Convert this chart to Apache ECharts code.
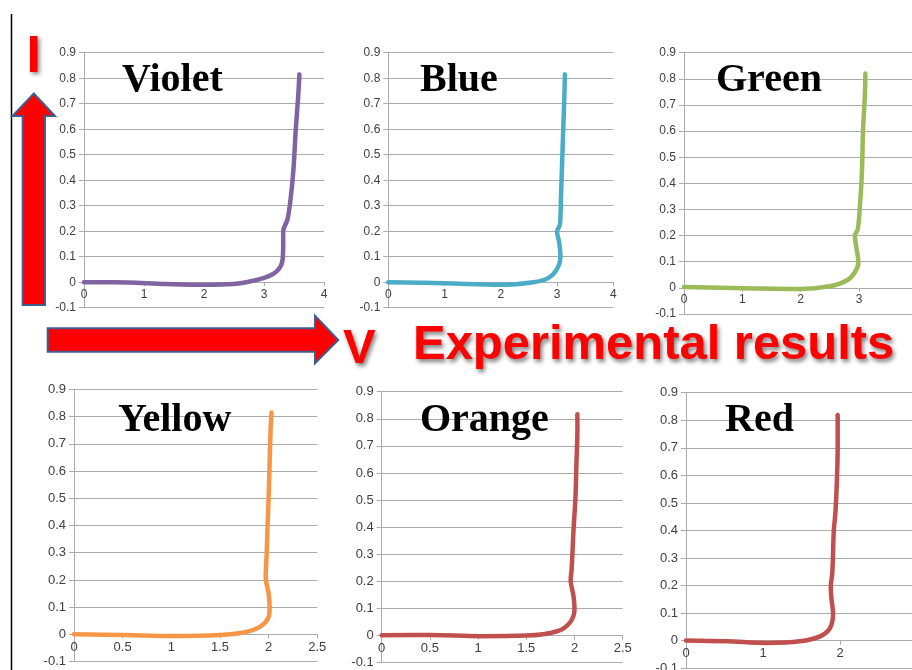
<!DOCTYPE html>
<html>
<head>
<meta charset="utf-8">
<script src="https://cdn.jsdelivr.net/npm/echarts@6/dist/echarts.min.js"></script>
<style>
html, body { margin: 0; padding: 0; background: #ffffff; }
#chart { width: 912px; height: 670px; }
</style>
</head>
<body>
<div id="chart"></div>
<script>
// Measured current (I) versus voltage (V) for each LED colour
const violetV = [0, 0.5, 1.38, 2.0, 2.49, 2.99, 3.21, 3.31, 3.32, 3.32, 3.39, 3.44, 3.49, 3.53, 3.57, 3.59];
const violetI = [0, 0.0, -0.007, -0.01, -0.007, 0.016, 0.042, 0.088, 0.153, 0.2, 0.245, 0.32, 0.44, 0.6, 0.73, 0.815];

const blueV = [0, 1.0, 1.99, 2.58, 2.84, 2.99, 3.06, 3.04, 3.0, 3.05, 3.07, 3.09, 3.11, 3.13, 3.14];
const blueI = [0, -0.004, -0.01, 0, 0.016, 0.048, 0.1, 0.153, 0.2, 0.225, 0.336, 0.467, 0.6, 0.73, 0.815];

const greenV = [0, 1.02, 1.99, 2.5, 2.79, 2.93, 2.99, 2.96, 2.93, 2.98, 3.02, 3.05, 3.07, 3.1, 3.11];
const greenI = [0.003, -0.001, -0.004, 0.006, 0.028, 0.06, 0.098, 0.148, 0.2, 0.225, 0.326, 0.44, 0.605, 0.732, 0.82];

const yellowV = [0, 0.51, 1.02, 1.5, 1.74, 1.91, 2.0, 2.01, 2.0, 1.97, 1.98, 1.99, 2.0, 2.01, 2.02, 2.03];
const yellowI = [0.001, -0.002, -0.006, -0.002, 0.007, 0.028, 0.065, 0.1, 0.15, 0.21, 0.3, 0.41, 0.505, 0.63, 0.75, 0.815];

const orangeV = [0, 0.5, 1.02, 1.5, 1.82, 1.95, 2.0, 1.99, 1.96, 1.97, 1.99, 2.01, 2.02, 2.03, 2.03];
const orangeI = [0.001, 0.002, -0.002, 0, 0.016, 0.047, 0.096, 0.145, 0.206, 0.243, 0.39, 0.51, 0.636, 0.76, 0.817];

const redV = [0, 0.53, 1.05, 1.48, 1.74, 1.87, 1.91, 1.89, 1.88, 1.9, 1.92, 1.94, 1.96, 1.97, 1.97];
const redI = [0.001, -0.002, -0.008, -0.002, 0.016, 0.046, 0.1, 0.149, 0.197, 0.245, 0.402, 0.463, 0.583, 0.704, 0.819];

// Axis ranges
const currentMin = -0.1, currentMax = 0.9, currentStep = 0.1;
const voltMaxTop = 4, voltStepTop = 1;
const voltMaxBottom = 2.5, voltStepBottom = 0.5;
const voltMaxRed = 3, voltStepRed = 1;

const headline = 'Experimental results';

const zip = (a, b) => a.map((v, k) => [v, b[k]]);

const panels = [
  { name: 'Violet', data: zip(violetV, violetI), color: '#8064A2', xMax: voltMaxTop,    xStep: voltStepTop,    grid: { left: 84,    top: 52.7,  width: 240,   height: 255 },   font: 12, tx: 122, ty: 94 },
  { name: 'Blue',   data: zip(blueV, blueI),     color: '#4BACC6', xMax: voltMaxTop,    xStep: voltStepTop,    grid: { left: 388.3, top: 52.7,  width: 225,   height: 255 },   font: 12, tx: 420, ty: 94 },
  { name: 'Green',  data: zip(greenV, greenI),   color: '#9BBB59', xMax: voltMaxTop,    xStep: voltStepTop,    grid: { left: 684,   top: 52.7,  width: 233.3, height: 261.3 }, font: 12, tx: 716, ty: 94 },
  { name: 'Yellow', data: zip(yellowV, yellowI), color: '#F79646', xMax: voltMaxBottom, xStep: voltStepBottom, grid: { left: 74,    top: 389.3, width: 243.3, height: 272.4 }, font: 13, tx: 118, ty: 434 },
  { name: 'Orange', data: zip(orangeV, orangeI), color: '#C0504D', xMax: voltMaxBottom, xStep: voltStepBottom, grid: { left: 381.7, top: 391.7, width: 241,   height: 271 },   font: 13, tx: 420, ty: 434 },
  { name: 'Red',    data: zip(redV, redI),       color: '#C0504D', xMax: voltMaxRed,    xStep: voltStepRed,    grid: { left: 686,   top: 392.7, width: 231,   height: 275.6 }, font: 13, tx: 725, ty: 434 }
];

const gridColor = '#ababab';
const labelColor = '#404040';
const fmt = v => String(+v.toFixed(1));

// The voltage axis sits on I = 0, one tenth of the plot height above the bottom edge
const zeroOffset = p => -p.grid.height * (0 - currentMin) / (currentMax - currentMin);

const option = {
  backgroundColor: '#ffffff',
  animation: false,
  grid: panels.map(p => Object.assign({ containLabel: false, outerBoundsMode: 'none' }, p.grid)),
  xAxis: panels.map((p, k) => ({
    type: 'value', gridIndex: k, min: 0, max: p.xMax, interval: p.xStep,
    position: 'bottom', offset: zeroOffset(p),
    axisLine: { show: true, onZero: false, lineStyle: { color: gridColor, width: 1 } },
    axisTick: { show: true, length: 4, lineStyle: { color: gridColor } },
    axisLabel: { color: labelColor, fontSize: p.font, fontFamily: 'Liberation Sans', margin: 6, formatter: fmt, showMaxLabel: true, showMinLabel: true, hideOverlap: false },
    splitLine: { show: false }
  })),
  yAxis: panels.map((p, k) => ({
    type: 'value', gridIndex: k, min: currentMin, max: currentMax, interval: currentStep,
    axisLine: { show: true, onZero: false, lineStyle: { color: gridColor, width: 1 } },
    axisTick: { show: true, length: 5, lineStyle: { color: gridColor } },
    axisLabel: { color: labelColor, fontSize: p.font, fontFamily: 'Liberation Sans', margin: 8, formatter: fmt },
    splitLine: { show: true, lineStyle: { color: gridColor, width: 1 } }
  })),
  series: panels.map((p, k) => ({
    type: 'line', name: p.name, xAxisIndex: k, yAxisIndex: k,
    data: p.data, smooth: 0.35, showSymbol: false, symbol: 'none',
    lineStyle: { color: p.color, width: 4.5, cap: 'round', join: 'round' },
    z: 5
  })),
  graphic: [
    // left border rule
    { type: 'line', shape: { x1: 11.5, y1: 14, x2: 11.5, y2: 670 }, style: { stroke: '#000000', lineWidth: 1.5 }, z: 10 },
    // current arrow (upwards)
    { type: 'polygon', shape: { points: [[22.7, 305], [22.7, 116], [12.5, 116], [33.8, 93.5], [55, 116], [45, 116], [45, 305]] },
      style: { fill: '#ff0000', stroke: '#3d5f8e', lineWidth: 2 }, z: 10 },
    // voltage arrow (rightwards)
    { type: 'polygon', shape: { points: [[47.7, 328.3], [315, 328.3], [315, 315.7], [338.3, 340], [315, 363.3], [315, 351.7], [47.7, 351.7]] },
      style: { fill: '#ff0000', stroke: '#3d5f8e', lineWidth: 2 }, z: 10 },
    // axis letters and headline
    { type: 'text', z: 11, style: { text: 'I', x: 33.8, y: 75.5 - 18, textAlign: 'center', textVerticalAlign: 'middle',
      font: 'bold 52px "Liberation Sans"', fill: '#ff0000', textShadowColor: 'rgba(0,0,0,0.5)', textShadowBlur: 4, textShadowOffsetX: 2, textShadowOffsetY: 2 } },
    { type: 'text', z: 11, style: { text: 'V', x: 343, y: 366.7 - 17, textAlign: 'left', textVerticalAlign: 'middle',
      font: 'bold 49px "Liberation Sans"', fill: '#ff0000', textShadowColor: 'rgba(0,0,0,0.5)', textShadowBlur: 4, textShadowOffsetX: 2, textShadowOffsetY: 3 } },
    { type: 'text', z: 11, scaleX: 1.03, x: 413, style: { text: headline, x: 0, y: 362 - 16.5, textAlign: 'left', textVerticalAlign: 'middle',
      font: 'bold 47.5px "Liberation Sans"', fill: '#ff0000', textShadowColor: 'rgba(0,0,0,0.5)', textShadowBlur: 4, textShadowOffsetX: 2, textShadowOffsetY: 3 } }
  ].concat(panels.map(p => ({
    type: 'text', z: 11,
    style: { text: p.name, x: p.tx, y: p.ty - 13.5, textAlign: 'left', textVerticalAlign: 'middle',
      font: 'bold 40px "Liberation Serif"', fill: '#000000' }
  })))
};

const chart = echarts.init(document.getElementById('chart'), null, { renderer: 'canvas' });
chart.setOption(option);
</script>
</body>
</html>
